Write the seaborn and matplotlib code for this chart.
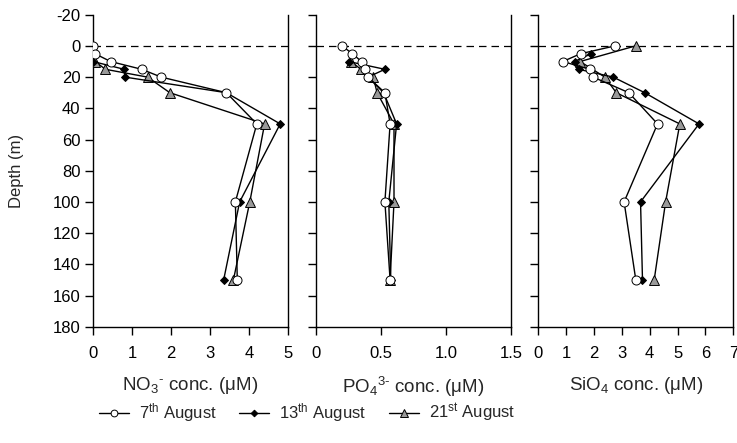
import matplotlib
matplotlib.use('Agg')
import matplotlib.pyplot as plt
import seaborn as sns
import pandas as pd

# depth profiles (m)
dates = ['7$^{\\mathrm{th}}$ August', '13$^{\\mathrm{th}}$ August', '21$^{\\mathrm{st}}$ August']

no3_depth_7 = [0, 5, 10, 15, 20, 30, 50, 100, 150]
no3_conc_7 = [0.0, 0.05, 0.45, 1.25, 1.75, 3.42, 4.2, 3.65, 3.7]
no3_depth_13 = [10, 15, 20, 30, 50, 100, 150]
no3_conc_13 = [0.0, 0.8, 0.82, 3.42, 4.8, 3.76, 3.35]
no3_depth_21 = [10, 15, 20, 30, 50, 100, 150]
no3_conc_21 = [0.05, 0.32, 1.4, 1.97, 4.4, 4.02, 3.6]

po4_depth_7 = [0, 5, 10, 15, 20, 30, 50, 100, 150]
po4_conc_7 = [0.2, 0.28, 0.35, 0.38, 0.4, 0.53, 0.57, 0.53, 0.57]
po4_depth_13 = [10, 15, 20, 30, 50, 100, 150]
po4_conc_13 = [0.25, 0.53, 0.4, 0.52, 0.62, 0.56, 0.575]
po4_depth_21 = [10, 15, 20, 30, 50, 100, 150]
po4_conc_21 = [0.27, 0.345, 0.44, 0.47, 0.6, 0.6, 0.57]

sio4_depth_7 = [0, 5, 10, 15, 20, 30, 50, 100, 150]
sio4_conc_7 = [2.75, 1.52, 0.88, 1.85, 1.97, 3.25, 4.28, 3.08, 3.5]
sio4_depth_13 = [5, 10, 15, 20, 30, 50, 100, 150]
sio4_conc_13 = [1.9, 1.3, 1.45, 2.69, 3.82, 5.77, 3.67, 3.74]
sio4_depth_21 = [0, 10, 20, 30, 50, 100, 150]
sio4_conc_21 = [3.49, 1.5, 2.39, 2.8, 5.08, 4.57, 4.16]

xlabels = ['NO$_3$$^{\u2010}$ conc. (\u03bcM)', 'PO$_4$$^{3\u2010}$ conc. (\u03bcM)', 'SiO$_4$ conc. (\u03bcM)']
xticks = [[0, 1, 2, 3, 4, 5], [0, 0.5, 1.0, 1.5], [0, 1, 2, 3, 4, 5, 6, 7]]
xticklabels = [['0', '1', '2', '3', '4', '5'], ['0', '0.5', '1.0', '1.5'],
               ['0', '1', '2', '3', '4', '5', '6', '7']]
yticks = list(range(-20, 181, 20))

sns.set_style('ticks')
plt.rcParams['font.family'] = ['Liberation Sans', 'DejaVu Sans']
plt.rcParams['mathtext.fontset'] = 'custom'
plt.rcParams['mathtext.rm'] = 'Liberation Sans'
plt.rcParams['mathtext.it'] = 'Liberation Sans:italic'
plt.rcParams['mathtext.bf'] = 'Liberation Sans:bold'
plt.rcParams['axes.unicode_minus'] = False

# 7th August drawn on top, 21st underneath
styles = [dict(marker='o', markersize=6.5, markerfacecolor='white', zorder=5),
          dict(marker='D', markersize=4.5, markerfacecolor='black', zorder=4),
          dict(marker='^', markersize=7, markerfacecolor='#999999', zorder=3)]

panels = [
    [(no3_conc_7, no3_depth_7), (no3_conc_13, no3_depth_13), (no3_conc_21, no3_depth_21)],
    [(po4_conc_7, po4_depth_7), (po4_conc_13, po4_depth_13), (po4_conc_21, po4_depth_21)],
    [(sio4_conc_7, sio4_depth_7), (sio4_conc_13, sio4_depth_13), (sio4_conc_21, sio4_depth_21)],
]
lefts = [93 / 737, 316 / 737, 538.3 / 737]

fig = plt.figure(figsize=(7.37, 4.43), dpi=100)
handles = []
for i, series in enumerate(panels):
    ax = fig.add_axes([lefts[i], 0.2625, 0.2646, 0.7043])
    for j, (conc, depth) in enumerate(series):
        df = pd.DataFrame({'conc': conc, 'depth': depth})
        sns.lineplot(data=df, x='conc', y='depth', sort=False, estimator=None,
                     color='black', lw=1, markeredgecolor='black', markeredgewidth=0.7,
                     label=dates[j], legend=False, ax=ax, **styles[j])
    if ax.get_legend() is not None:
        ax.get_legend().remove()
    ax.axhline(0, color='black', lw=0.9, ls=(0, (6, 4)), zorder=0)
    ax.set_xlim(xticks[i][0], xticks[i][-1])
    ax.set_ylim(180, -20)
    ax.set_xticks(xticks[i])
    ax.set_xticklabels(xticklabels[i])
    ax.set_yticks(yticks)
    ax.spines['top'].set_visible(False)
    for s in ['left', 'bottom', 'right']:
        ax.spines[s].set_linewidth(1)
        ax.spines[s].set_color('black')
    ax.tick_params(direction='out', length=6, width=1, color='black',
                   labelsize=12, labelcolor='black')
    ax.tick_params(axis='x', pad=8)
    ax.tick_params(axis='y', pad=3)
    ax.set_xlabel(xlabels[i], fontsize=13.5, labelpad=10)
    if i == 0:
        ax.set_ylabel('Depth (m)', fontsize=12)
        ax.yaxis.set_label_coords(-0.355, 0.5)
        handles, labels = ax.get_legend_handles_labels()
    else:
        ax.set_ylabel('')
        ax.set_yticklabels([])

fig.legend(handles, labels, loc='center', bbox_to_anchor=(0.417, 0.068), ncol=3,
           frameon=False, fontsize=12, markerscale=0.75, handlelength=1.8,
           handletextpad=0.6, columnspacing=1.35)

fig.savefig('out.png', dpi=100)
